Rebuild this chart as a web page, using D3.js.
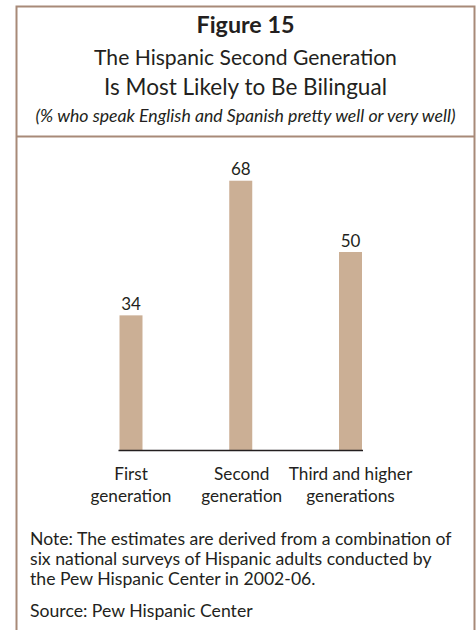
<!DOCTYPE html>
<html>
<head>
<meta charset="utf-8">
<script src="https://cdn.jsdelivr.net/npm/d3@7"></script>
<style>
  html, body { margin: 0; padding: 0; background: #ffffff; }
  svg { display: block; }
  text { font-family: "Lato", "Open Sans", sans-serif; fill: #231f20; }
</style>
</head>
<body>
<script>
// Share of Hispanic adults who speak English and Spanish pretty well or very well
const categories = ["First generation", "Second generation", "Third and higher generations"];
const categoryLines = [["First", "generation"], ["Second", "generation"], ["Third and higher", "generations"]];
const values = [34, 68, 50];

const titleLines = ["The Hispanic Second Generation", "Is Most Likely to Be Bilingual"];
const noteLines = [
  "Note: The estimates are derived from a combination of",
  "six national surveys of Hispanic adults conducted by",
  "the Pew Hispanic Center in 2002-06."
];

const W = 476, H = 630;
const svg = d3.select("body").append("svg").attr("width", W).attr("height", H);

svg.append("rect").attr("width", W).attr("height", H).attr("fill", "#ffffff");

// Frame
const frameColor = "#a88a78";
const fx0 = 16.5, fx1 = 474.5, fy0 = 6.5;
svg.append("path")
  .attr("d", `M${fx0},${H} V${fy0} H${fx1} V${H}`)
  .attr("fill", "none").attr("stroke", frameColor).attr("stroke-width", 2);
svg.append("line")
  .attr("x1", fx0).attr("x2", fx1).attr("y1", 136.5).attr("y2", 136.5)
  .attr("stroke", frameColor).attr("stroke-width", 2);

const cx = (fx0 + fx1) / 2;

// Scale a text's font size so it spans the given width; returns the size
function fit(sel, width) {
  const len = sel.node().getComputedTextLength();
  const fs = parseFloat(sel.attr("font-size"));
  const nfs = fs * width / len;
  sel.attr("font-size", nfs.toFixed(2));
  return nfs;
}

// Title block
const t0 = svg.append("text").attr("x", cx).attr("y", 33).attr("text-anchor", "middle")
  .attr("font-size", 19).attr("font-weight", "bold").text("Figure 15");
fit(t0, 98);
const t1 = svg.append("text").attr("x", cx).attr("y", 65).attr("text-anchor", "middle")
  .attr("font-size", 18).text(titleLines[0]);
fit(t1, 303);
const t2 = svg.append("text").attr("x", cx).attr("y", 95).attr("text-anchor", "middle")
  .attr("font-size", 18).text(titleLines[1]);
fit(t2, 283);
const t3 = svg.append("text").attr("x", cx).attr("y", 121.5).attr("text-anchor", "middle")
  .attr("font-size", 14).attr("font-style", "italic")
  .text("(% who speak English and Spanish pretty well or very well)");
fit(t3, 420);

// Scales
const baseY = 450;
const y = d3.scaleLinear().domain([0, 100]).range([baseY, baseY - 396]);
const x = d3.scalePoint().domain(categories).range([131, 350.5]);
const barW = 23;

// Bars
svg.append("g").selectAll("rect").data(values).join("rect")
  .attr("x", (d, i) => x(categories[i]) - barW / 2)
  .attr("y", d => y(d))
  .attr("width", barW)
  .attr("height", d => baseY - y(d))
  .attr("fill", "#cbaf95");

// Value labels
svg.append("g").selectAll("text").data(values).join("text")
  .attr("x", (d, i) => x(categories[i]))
  .attr("y", d => y(d) - 5.5)
  .attr("text-anchor", "middle")
  .attr("font-size", 17)
  .text(d => d);

// Baseline
svg.append("line")
  .attr("x1", x(categories[0]) - barW / 2 - 1)
  .attr("x2", x(categories[categories.length - 1]) + barW / 2 + 1)
  .attr("y1", baseY + 0.5).attr("y2", baseY + 0.5)
  .attr("stroke", "#231f20").attr("stroke-width", 1.6);

// Category labels: size taken from the width of "generation"
const probe = svg.append("text").attr("font-size", 15).text("generation");
const catSize = fit(probe, 81);
probe.remove();
const cat = svg.append("g").selectAll("text").data(categoryLines).join("text")
  .attr("text-anchor", "middle")
  .attr("font-size", catSize.toFixed(2));
cat.each(function (lines, i) {
  d3.select(this).selectAll("tspan").data(lines).join("tspan")
    .attr("x", x(categories[i]) + (i === 1 ? 1 : 0))
    .attr("y", (d, j) => 480 + j * 22)
    .text(d => d);
});

// Note and source, all at the size that fits the first note line
const n0 = svg.append("text").attr("x", 30).attr("y", 545)
  .attr("font-size", 15).text(noteLines[0]);
const noteSize = fit(n0, 422);
noteLines.slice(1).forEach((line, i) => {
  svg.append("text").attr("x", 30).attr("y", 565 + i * 20)
    .attr("font-size", noteSize.toFixed(2)).text(line);
});
svg.append("text").attr("x", 30).attr("y", 616.5).attr("font-size", noteSize.toFixed(2))
  .text("Source: Pew Hispanic Center");
</script>
</body>
</html>
